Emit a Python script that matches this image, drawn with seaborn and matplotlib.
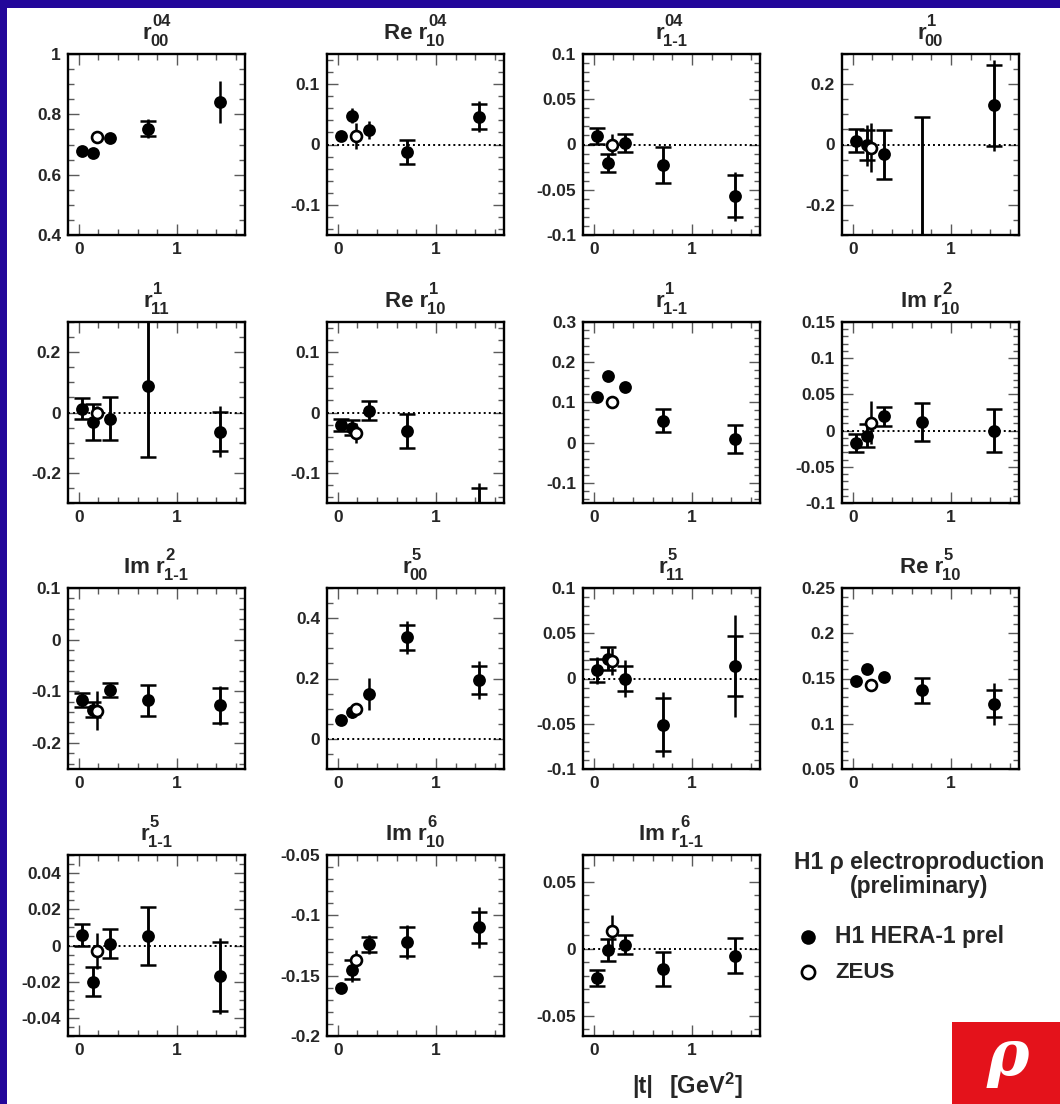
import numpy as np
import pandas as pd
import matplotlib
matplotlib.use("Agg")
import matplotlib.pyplot as plt
import seaborn as sns
from matplotlib.ticker import MultipleLocator, FuncFormatter
from matplotlib.lines import Line2D
from matplotlib.patches import Rectangle

# |t| bin centres
t_h1 = [0.03, 0.14, 0.32, 0.70, 1.44]
t_zeus = [0.18]

# H1 measurements: value, statistical error, total error; ZEUS: value, error
r04_00_val = [0.678, 0.672, 0.722, 0.753, 0.841]
r04_00_stat = [0.0, 0.0, 0.0, 0.025, 0.0]
r04_00_tot = [0.01, 0.01, 0.01, 0.03, 0.07]
r04_00_zeus = [0.724]
r04_00_zeus_err = [0.01]

re_r04_10_val = [0.014, 0.048, 0.024, -0.013, 0.046]
re_r04_10_stat = [0.0, 0.0, 0.0, 0.02, 0.021]
re_r04_10_tot = [0.006, 0.012, 0.015, 0.02, 0.026]
re_r04_10_zeus = [0.014]
re_r04_10_zeus_err = [0.022]

r04_1m1_val = [0.0095, -0.020, 0.002, -0.023, -0.057]
r04_1m1_stat = [0.009, 0.01, 0.01, 0.02, 0.023]
r04_1m1_tot = [0.009, 0.01, 0.01, 0.02, 0.027]
r04_1m1_zeus = [0.0]
r04_1m1_zeus_err = [0.012]

r1_00_val = [0.013, -0.003, -0.033, -0.50, 0.13]
r1_00_stat = [0.037, 0.05, 0.08, 0.59, 0.135]
r1_00_tot = [0.037, 0.068, 0.08, 0.59, 0.15]
r1_00_zeus = [-0.01]
r1_00_zeus_err = [0.08]

r1_11_val = [0.013, -0.031, -0.02, 0.089, -0.063]
r1_11_stat = [0.034, 0.06, 0.07, 0.235, 0.066]
r1_11_tot = [0.034, 0.06, 0.07, 0.235, 0.083]
r1_11_zeus = [-0.003]
r1_11_zeus_err = [0.025]

re_r1_10_val = [-0.02, -0.025, 0.003, -0.031, -0.20]
re_r1_10_stat = [0.01, 0.012, 0.016, 0.028, 0.075]
re_r1_10_tot = [0.01, 0.012, 0.016, 0.028, 0.083]
re_r1_10_zeus = [-0.034]
re_r1_10_zeus_err = [0.016]

r1_1m1_val = [0.113, 0.165, 0.139, 0.055, 0.009]
r1_1m1_stat = [0.0, 0.0, 0.0, 0.029, 0.034]
r1_1m1_tot = [0.005, 0.005, 0.005, 0.029, 0.034]
r1_1m1_zeus = [0.10]
r1_1m1_zeus_err = [0.01]

im_r2_10_val = [-0.017, -0.007, 0.02, 0.012, 0.0]
im_r2_10_stat = [0.012, 0.016, 0.013, 0.026, 0.03]
im_r2_10_tot = [0.012, 0.016, 0.013, 0.026, 0.03]
im_r2_10_zeus = [0.011]
im_r2_10_zeus_err = [0.03]

im_r2_1m1_val = [-0.117, -0.135, -0.097, -0.117, -0.127]
im_r2_1m1_stat = [0.013, 0.015, 0.013, 0.03, 0.034]
im_r2_1m1_tot = [0.013, 0.015, 0.013, 0.03, 0.038]
im_r2_1m1_zeus = [-0.137]
im_r2_1m1_zeus_err = [0.038]

r5_00_val = [0.062, 0.09, 0.15, 0.336, 0.195]
r5_00_stat = [0.0, 0.0, 0.0, 0.043, 0.048]
r5_00_tot = [0.015, 0.02, 0.053, 0.055, 0.062]
r5_00_zeus = [0.10]
r5_00_zeus_err = [0.02]

r5_11_val = [0.009, 0.022, 0.0, -0.051, 0.014]
r5_11_stat = [0.013, 0.013, 0.014, 0.029, 0.033]
r5_11_tot = [0.015, 0.013, 0.02, 0.036, 0.056]
r5_11_zeus = [0.019]
r5_11_zeus_err = [0.015]

re_r5_10_val = [0.147, 0.160, 0.152, 0.137, 0.122]
re_r5_10_stat = [0.0, 0.0, 0.0, 0.014, 0.015]
re_r5_10_tot = [0.004, 0.004, 0.004, 0.014, 0.023]
re_r5_10_zeus = [0.143]
re_r5_10_zeus_err = [0.005]

r5_1m1_val = [0.006, -0.020, 0.001, 0.005, -0.017]
r5_1m1_stat = [0.006, 0.008, 0.008, 0.016, 0.019]
r5_1m1_tot = [0.006, 0.008, 0.008, 0.016, 0.021]
r5_1m1_zeus = [-0.003]
r5_1m1_zeus_err = [0.01]

im_r6_10_val = [-0.160, -0.145, -0.124, -0.122, -0.110]
im_r6_10_stat = [0.0, 0.008, 0.006, 0.012, 0.013]
im_r6_10_tot = [0.004, 0.01, 0.008, 0.014, 0.017]
im_r6_10_zeus = [-0.137]
im_r6_10_zeus_err = [0.008]

im_r6_1m1_val = [-0.022, -0.001, 0.003, -0.015, -0.005]
im_r6_1m1_stat = [0.006, 0.008, 0.007, 0.013, 0.013]
im_r6_1m1_tot = [0.006, 0.008, 0.007, 0.013, 0.013]
im_r6_1m1_zeus = [0.013]
im_r6_1m1_zeus_err = [0.012]

# title pieces: prefix, superscript, subscript
panels = [
    dict(pre="", sup="04", sub="00", ylim=(0.4, 1.0), major=0.2, minor=0.05, zero=False,
         val=r04_00_val, stat=r04_00_stat, tot=r04_00_tot, zv=r04_00_zeus, ze=r04_00_zeus_err),
    dict(pre="Re ", sup="04", sub="10", ylim=(-0.15, 0.15), major=0.1, minor=0.02, zero=True,
         val=re_r04_10_val, stat=re_r04_10_stat, tot=re_r04_10_tot, zv=re_r04_10_zeus, ze=re_r04_10_zeus_err),
    dict(pre="", sup="04", sub="1-1", ylim=(-0.1, 0.1), major=0.05, minor=0.01, zero=True,
         val=r04_1m1_val, stat=r04_1m1_stat, tot=r04_1m1_tot, zv=r04_1m1_zeus, ze=r04_1m1_zeus_err),
    dict(pre="", sup="1", sub="00", ylim=(-0.3, 0.3), major=0.2, minor=0.05, zero=True,
         val=r1_00_val, stat=r1_00_stat, tot=r1_00_tot, zv=r1_00_zeus, ze=r1_00_zeus_err),
    dict(pre="", sup="1", sub="11", ylim=(-0.3, 0.3), major=0.2, minor=0.05, zero=True,
         val=r1_11_val, stat=r1_11_stat, tot=r1_11_tot, zv=r1_11_zeus, ze=r1_11_zeus_err),
    dict(pre="Re ", sup="1", sub="10", ylim=(-0.15, 0.15), major=0.1, minor=0.02, zero=True,
         val=re_r1_10_val, stat=re_r1_10_stat, tot=re_r1_10_tot, zv=re_r1_10_zeus, ze=re_r1_10_zeus_err),
    dict(pre="", sup="1", sub="1-1", ylim=(-0.15, 0.3), major=0.1, minor=0.02, zero=False,
         val=r1_1m1_val, stat=r1_1m1_stat, tot=r1_1m1_tot, zv=r1_1m1_zeus, ze=r1_1m1_zeus_err),
    dict(pre="Im ", sup="2", sub="10", ylim=(-0.1, 0.15), major=0.05, minor=0.01, zero=True,
         val=im_r2_10_val, stat=im_r2_10_stat, tot=im_r2_10_tot, zv=im_r2_10_zeus, ze=im_r2_10_zeus_err),
    dict(pre="Im ", sup="2", sub="1-1", ylim=(-0.25, 0.1), major=0.1, minor=0.02, zero=False,
         val=im_r2_1m1_val, stat=im_r2_1m1_stat, tot=im_r2_1m1_tot, zv=im_r2_1m1_zeus, ze=im_r2_1m1_zeus_err),
    dict(pre="", sup="5", sub="00", ylim=(-0.1, 0.5), major=0.2, minor=0.05, zero=True,
         val=r5_00_val, stat=r5_00_stat, tot=r5_00_tot, zv=r5_00_zeus, ze=r5_00_zeus_err),
    dict(pre="", sup="5", sub="11", ylim=(-0.1, 0.1), major=0.05, minor=0.01, zero=True,
         val=r5_11_val, stat=r5_11_stat, tot=r5_11_tot, zv=r5_11_zeus, ze=r5_11_zeus_err),
    dict(pre="Re ", sup="5", sub="10", ylim=(0.05, 0.25), major=0.05, minor=0.01, zero=False,
         val=re_r5_10_val, stat=re_r5_10_stat, tot=re_r5_10_tot, zv=re_r5_10_zeus, ze=re_r5_10_zeus_err),
    dict(pre="", sup="5", sub="1-1", ylim=(-0.05, 0.05), major=0.02, minor=0.005, zero=True,
         val=r5_1m1_val, stat=r5_1m1_stat, tot=r5_1m1_tot, zv=r5_1m1_zeus, ze=r5_1m1_zeus_err),
    dict(pre="Im ", sup="6", sub="10", ylim=(-0.2, -0.05), major=0.05, minor=0.01, zero=False,
         val=im_r6_10_val, stat=im_r6_10_stat, tot=im_r6_10_tot, zv=im_r6_10_zeus, ze=im_r6_10_zeus_err),
    dict(pre="Im ", sup="6", sub="1-1", ylim=(-0.065, 0.07), major=0.05, minor=0.01, zero=True,
         val=im_r6_1m1_val, stat=im_r6_1m1_stat, tot=im_r6_1m1_tot, zv=im_r6_1m1_zeus, ze=im_r6_1m1_zeus_err),
]

sns.set_theme(style="ticks")
plt.rcParams["font.family"] = ["Liberation Sans", "DejaVu Sans"]
plt.rcParams["font.weight"] = "bold"
plt.rcParams["mathtext.fontset"] = "custom"
plt.rcParams["mathtext.rm"] = "Liberation Sans:bold"
plt.rcParams["mathtext.bf"] = "Liberation Sans:bold"
plt.rcParams["mathtext.it"] = "Liberation Sans:bold:italic"

W, H = 1060, 1104
fig = plt.figure(figsize=(W / 100, H / 100), dpi=100)
fig.patch.set_facecolor("#23079a")
# white slide area
fig.add_artist(Rectangle((7 / W, 0), 1, 1 - 8 / H, transform=fig.transFigure,
                         facecolor="white", edgecolor="none", zorder=-10))

col_x = [68, 327, 583, 842]
row_top = [54, 322, 588, 855]
AX_W, AX_H = 177, 181


def fmt(v, pos):
    s = f"{v:.3f}".rstrip("0").rstrip(".")
    if s in ("-0", ""):
        s = "0"
    return s


renderer = fig.canvas.get_renderer()


def panel_title(ax, pre, sup, sub):
    bb = ax.get_window_extent(renderer)
    cx = 0.5 * (bb.x0 + bb.x1)
    top = bb.y1
    tm = fig.text(0, 0, pre + "r", fontsize=16, fontweight="bold", va="baseline")
    ts = fig.text(0, 0, sub, fontsize=12, fontweight="bold", va="baseline")
    tp = fig.text(0, 0, sup, fontsize=12, fontweight="bold", va="baseline")
    wm = tm.get_window_extent(renderer).width
    ws = ts.get_window_extent(renderer).width
    wp = tp.get_window_extent(renderer).width
    total = wm + max(ws, wp + 1)
    x0 = cx - total / 2
    tm.set_position((x0 / W, (top + 15) / H))
    ts.set_position(((x0 + wm - 1) / W, (top + 8) / H))
    tp.set_position(((x0 + wm + 1) / W, (top + 28) / H))


for i, p in enumerate(panels):
    r, c = divmod(i, 4)
    ax = fig.add_axes([col_x[c] / W, 1 - (row_top[r] + AX_H) / H, AX_W / W, AX_H / H])
    ax.set_facecolor("white")
    ax.set_xlim(-0.11, 1.69)
    ax.set_ylim(*p["ylim"])
    if p["zero"]:
        ax.axhline(0, color="black", lw=1.4, ls=(0, (1, 1.6)), zorder=1)

    h1 = pd.DataFrame({"t": t_h1, "val": p["val"], "stat": p["stat"], "tot": p["tot"]})
    zeus = pd.DataFrame({"t": t_zeus, "val": p["zv"], "err": p["ze"]})

    ax.errorbar(h1["t"], h1["val"], yerr=h1["tot"], fmt="none", ecolor="black",
                elinewidth=1.8, capsize=0, zorder=2)
    st = h1[h1["stat"] > 0]
    ax.errorbar(st["t"], st["val"], yerr=st["stat"], fmt="none", ecolor="black",
                elinewidth=1.8, capsize=6, capthick=1.8, zorder=2)
    ax.errorbar(zeus["t"], zeus["val"], yerr=zeus["err"], fmt="none", ecolor="black",
                elinewidth=1.8, capsize=0, zorder=2)

    sns.scatterplot(data=h1, x="t", y="val", ax=ax, color="black", s=85,
                    linewidth=0, zorder=3, legend=False)
    sns.scatterplot(data=zeus, x="t", y="val", ax=ax, color="white", s=62,
                    edgecolor="black", linewidth=1.9, zorder=4, legend=False)

    ax.xaxis.set_major_locator(MultipleLocator(1))
    ax.xaxis.set_minor_locator(MultipleLocator(0.2))
    ax.yaxis.set_major_locator(MultipleLocator(p["major"]))
    ax.yaxis.set_minor_locator(MultipleLocator(p["minor"]))
    ax.xaxis.set_major_formatter(FuncFormatter(fmt))
    ax.yaxis.set_major_formatter(FuncFormatter(fmt))
    ax.tick_params(which="both", direction="in", top=True, right=True,
                   color="#5a5a5a", width=1.0, labelsize=12.5)
    ax.tick_params(which="major", length=8, pad=5)
    ax.tick_params(which="minor", length=4)
    for lab in ax.get_xticklabels() + ax.get_yticklabels():
        lab.set_fontweight("bold")
    for sp in ax.spines.values():
        sp.set_linewidth(1.7)
        sp.set_color("black")
    ax.set_xlabel("")
    ax.set_ylabel("")
    panel_title(ax, p["pre"], p["sup"], p["sub"])

# axis title
fig.text(632 / W, 1 - 1086 / H, "|t|", fontsize=17, fontweight="bold",
         va="center", ha="left")
fig.text(669 / W, 1 - 1086 / H, r"[GeV$^{2}$]", fontsize=17, fontweight="bold",
         va="center", ha="left")

# key
fig.text(919 / W, 1 - 862 / H, "H1 ρ electroproduction", fontsize=16.5, fontweight="bold",
         ha="center", va="center")
fig.text(919 / W, 1 - 887 / H, "(preliminary)", fontsize=16.5, fontweight="bold",
         ha="center", va="center")
fig.add_artist(Line2D([808 / W], [1 - 937 / H], marker="o", markersize=10.5, color="black",
                      markeredgewidth=0, transform=fig.transFigure))
fig.add_artist(Line2D([808 / W], [1 - 972 / H], marker="o", markersize=9.5,
                      markerfacecolor="white", markeredgecolor="black", markeredgewidth=1.9,
                      transform=fig.transFigure))
fig.text(835 / W, 1 - 937 / H, "H1 HERA-1 prel", fontsize=16.5, fontweight="bold",
         ha="left", va="center")
fig.text(835 / W, 1 - 972 / H, "ZEUS", fontsize=16, fontweight="bold",
         ha="left", va="center")

# rho badge
fig.add_artist(Rectangle((952 / W, 0), 108 / W, 82 / H, transform=fig.transFigure,
                         facecolor="#e4121b", edgecolor="none"))
fig.text(1008 / W, 1 - 1058 / H, "ρ", fontsize=46, color="white", style="italic",
         family=["DejaVu Serif"], ha="center", va="center")

fig.savefig("out.png", dpi=100, facecolor=fig.get_facecolor())
